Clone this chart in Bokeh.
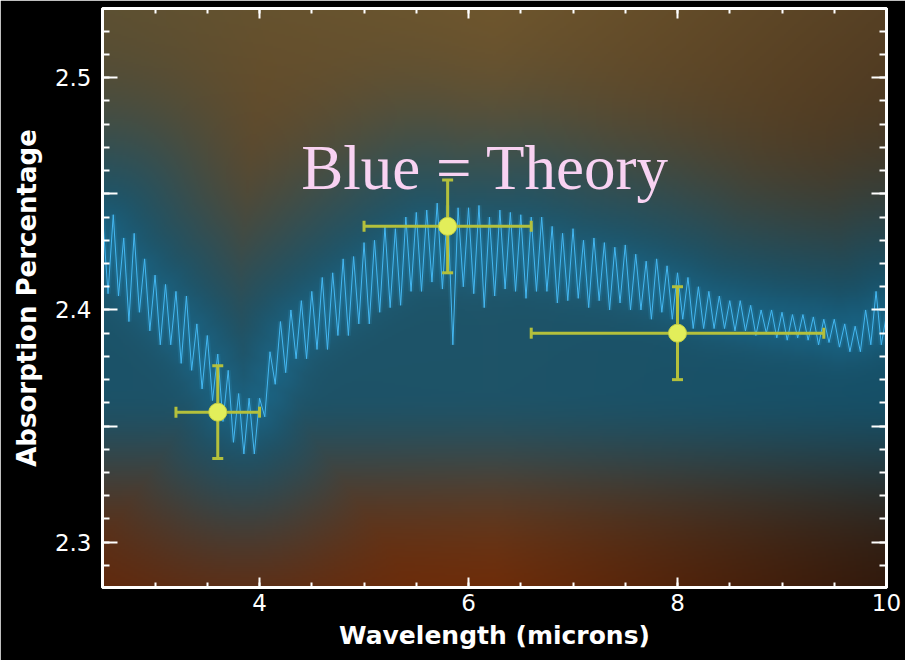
import numpy as np
from bokeh.plotting import figure
from bokeh.models import (Range1d, LinearAxis, FixedTicker, CustomJSTickFormatter, Label)
from bokeh.embed import file_html
from bokeh.resources import INLINE

# ---------------- data ----------------
WAVELENGTH = [
    2.50, 2.55, 2.60, 2.65, 2.70, 2.75, 2.80, 2.85, 2.90, 2.95,
    3.00, 3.05, 3.10, 3.15, 3.20, 3.25, 3.30, 3.35, 3.40, 3.45,
    3.50, 3.55, 3.60, 3.65, 3.70, 3.75, 3.80, 3.85, 3.90, 3.95,
    4.00, 4.05, 4.10, 4.15, 4.20, 4.25, 4.30, 4.35, 4.40, 4.45,
    4.50, 4.55, 4.60, 4.65, 4.70, 4.75, 4.80, 4.85, 4.90, 4.95,
    5.00, 5.05, 5.10, 5.15, 5.20, 5.25, 5.30, 5.35, 5.40, 5.45,
    5.50, 5.55, 5.60, 5.65, 5.70, 5.75, 5.80, 5.85, 5.90, 5.95,
    6.00, 6.05, 6.10, 6.15, 6.20, 6.25, 6.30, 6.35, 6.40, 6.45,
    6.50, 6.55, 6.60, 6.65, 6.70, 6.75, 6.80, 6.85, 6.90, 6.95,
    7.00, 7.05, 7.10, 7.15, 7.20, 7.25, 7.30, 7.35, 7.40, 7.45,
    7.50, 7.55, 7.60, 7.65, 7.70, 7.75, 7.80, 7.85, 7.90, 7.95,
    8.00, 8.05, 8.10, 8.15, 8.20, 8.25, 8.30, 8.35, 8.40, 8.45,
    8.50, 8.55, 8.60, 8.65, 8.70, 8.75, 8.80, 8.85, 8.90, 8.95,
    9.00, 9.05, 9.10, 9.15, 9.20, 9.25, 9.30, 9.35, 9.40, 9.45,
    9.50, 9.55, 9.60, 9.65, 9.70, 9.75, 9.80, 9.85, 9.90, 9.95,
    10.00,
]
THEORY = [
    2.439, 2.407, 2.441, 2.406, 2.431, 2.395, 2.433, 2.399, 2.422, 2.391,
    2.415, 2.385, 2.411, 2.385, 2.408, 2.377, 2.406, 2.374, 2.394, 2.366,
    2.389, 2.361, 2.381, 2.352, 2.374, 2.343, 2.364, 2.338, 2.362, 2.338,
    2.362, 2.354, 2.382, 2.368, 2.395, 2.373, 2.400, 2.379, 2.404, 2.379,
    2.408, 2.383, 2.414, 2.383, 2.416, 2.389, 2.422, 2.389, 2.423, 2.394,
    2.429, 2.394, 2.430, 2.399, 2.436, 2.401, 2.435, 2.402, 2.440, 2.408,
    2.442, 2.408, 2.443, 2.412, 2.446, 2.409, 2.445, 2.385, 2.444, 2.410,
    2.444, 2.407, 2.445, 2.401, 2.440, 2.406, 2.443, 2.409, 2.442, 2.408,
    2.441, 2.405, 2.440, 2.408, 2.440, 2.408, 2.436, 2.403, 2.433, 2.404,
    2.435, 2.405, 2.430, 2.401, 2.431, 2.404, 2.429, 2.400, 2.427, 2.403,
    2.428, 2.400, 2.424, 2.400, 2.421, 2.396, 2.422, 2.399, 2.419, 2.396,
    2.416, 2.396, 2.414, 2.392, 2.410, 2.392, 2.408, 2.392, 2.406, 2.392,
    2.404, 2.391, 2.404, 2.391, 2.402, 2.389, 2.400, 2.390, 2.400, 2.388,
    2.399, 2.387, 2.398, 2.388, 2.398, 2.387, 2.397, 2.385, 2.396, 2.386,
    2.396, 2.384, 2.394, 2.382, 2.393, 2.382, 2.400, 2.385, 2.408, 2.385,
    2.398,
]
OBS_WAVE = [3.6, 5.8, 8.0]
OBS_WAVE_ERR = [0.4, 0.8, 1.4]
OBS_ABS = [2.356, 2.436, 2.390]
OBS_ABS_ERR = [0.02, 0.02, 0.02]
X_TICKS = [4, 6, 8, 10]
Y_TICKS = [2.30, 2.35, 2.40, 2.45, 2.50]
X_LABEL = "Wavelength (microns)"
Y_LABEL = "Absorption Percentage"
NOTE = "Blue = Theory"

# ---------------- geometry ----------------
X0, X1 = 2.497, 10.0
Y0, Y1 = 2.2805, 2.5298
FW, FH = 784, 579

p = figure(frame_width=FW, frame_height=FH,
           min_border_left=102, min_border_right=19,
           min_border_top=8, min_border_bottom=73,
           x_range=Range1d(X0, X1), y_range=Range1d(Y0, Y1),
           output_backend="svg", toolbar_location=None)
p.background_fill_color = "black"
p.border_fill_color = "black"
p.outline_line_color = "white"
p.outline_line_width = 3
p.grid.visible = False

# ---------------- decorative background glow ----------------
nx, ny = 392, 290
gx = (np.arange(nx) + 0.5) * FW / nx
gy = (np.arange(ny) + 0.5) * FH / ny
PX, PY = np.meshgrid(gx, gy)
wl = np.asarray(WAVELENGTH)
th = np.asarray(THEORY)
k = 9
sm = np.convolve(np.pad(th, k // 2, mode="edge"), np.ones(k) / k, mode="valid")
cx = (wl - X0) / (X1 - X0) * FW
cy = (Y1 - sm) / (Y1 - Y0) * FH
d2 = np.full(PX.shape, np.inf)
for a, b in zip(cx, cy):
    np.minimum(d2, (PX - a) ** 2 + (PY - b) ** 2, out=d2)
d = np.sqrt(d2)
cyi = np.interp(gx, cx, cy)[None, :]
below = PY > cyi
w_dist = np.exp(-(d / 125.0) ** 2)
bnd = np.maximum(cyi, 380.0)
w_low = np.exp(-(np.maximum(0.0, PY - bnd) / 105.0) ** 2)
w = np.where(below, np.maximum(w_dist, w_low * 0.95), w_dist)
w2 = np.exp(-(d / 30.0) ** 2)
t = PY / FH
xr = PX / FW
top_c = np.array([(95, 80, 48), (112, 86, 44), (86, 64, 36)], float)
bot_c = np.array([(100, 40, 10), (112, 44, 8), (50, 24, 10)], float)
rgb = np.zeros((ny, nx, 3))
teal = np.array([14, 88, 120], float)
light = np.array([35, 130, 175], float)
for i in range(3):
    tc = np.interp(xr, [0, 0.5, 1], top_c[:, i])
    bc = np.interp(xr, [0, 0.5, 1], bot_c[:, i])
    base = tc * (1 - t) + bc * t
    c = base * (1 - 0.88 * w) + teal[i] * 0.88 * w
    c = c * (1 - 0.3 * w2) + light[i] * 0.3 * w2
    rgb[..., i] = c
rgb = np.clip(rgb, 0, 255).astype(np.uint8)[::-1]
img = np.empty((ny, nx), dtype=np.uint32)
view = img.view(dtype=np.uint8).reshape((ny, nx, 4))
view[..., :3] = rgb
view[..., 3] = 255
p.image_rgba(image=[img], x=X0, y=Y0, dw=X1 - X0, dh=Y1 - Y0, level="image")

# ---------------- theory spectrum ----------------
p.line(WAVELENGTH, THEORY, line_color="#3db4f0", line_width=5, line_alpha=0.12)
p.line(WAVELENGTH, THEORY, line_color="#45b8f2", line_width=1.0)

# ---------------- observations ----------------
ERR_COL = "#b4c03c"
xl = [a - e for a, e in zip(OBS_WAVE, OBS_WAVE_ERR)]
xu = [a + e for a, e in zip(OBS_WAVE, OBS_WAVE_ERR)]
yl = [a - e for a, e in zip(OBS_ABS, OBS_ABS_ERR)]
yu = [a + e for a, e in zip(OBS_ABS, OBS_ABS_ERR)]
p.segment(x0=xl, y0=OBS_ABS, x1=xu, y1=OBS_ABS, line_color=ERR_COL, line_width=3)
p.segment(x0=OBS_WAVE, y0=yl, x1=OBS_WAVE, y1=yu, line_color=ERR_COL, line_width=3)
p.scatter(x=xl + xu, y=OBS_ABS + OBS_ABS, marker="dash", angle=np.pi / 2, size=11,
          line_color=ERR_COL, line_width=3)
p.scatter(x=OBS_WAVE + OBS_WAVE, y=yl + yu, marker="dash", size=11,
          line_color=ERR_COL, line_width=3)
p.scatter(x=OBS_WAVE, y=OBS_ABS, size=18, fill_color="#e2ee5a",
          line_color="#c8d244", line_width=1)

# ---------------- note ----------------
p.add_layout(Label(x=4.399, y=2.4613, text=NOTE, text_font="Liberation Serif",
                   text_font_size="63px", text_color="#f8d2f2",
                   text_baseline="alphabetic", text_align="left"))

# ---------------- axes ----------------
x_minor = [2.5 + 0.5 * i for i in range(16)]
y_minor = [round(2.28 + 0.01 * i, 2) for i in range(26)]
yfmt = CustomJSTickFormatter(code="return Math.abs(tick*10 - Math.round(tick*10)) < 1e-6 ? tick.toFixed(1) : '';")


def common(ax, labels, standoff):
    ax.axis_line_color = "white"
    ax.axis_line_width = 3
    ax.major_tick_out = 0
    ax.minor_tick_out = 0
    ax.major_tick_line_color = "white"
    ax.minor_tick_line_color = "white"
    ax.major_tick_line_width = 2
    ax.minor_tick_line_width = 2
    if labels:
        ax.major_label_text_font = "DejaVu Sans"
        ax.major_label_text_font_size = "23px"
        ax.major_label_text_color = "white"
        ax.major_label_standoff = standoff
    else:
        ax.major_label_text_font_size = "0px"
        ax.major_label_text_color = None
        ax.major_label_standoff = 0


def style_x(ax, labels):
    ax.ticker = FixedTicker(ticks=X_TICKS, minor_ticks=x_minor)
    ax.major_tick_in = 10
    ax.minor_tick_in = 5
    common(ax, labels, 6)


def style_y(ax, labels):
    ax.ticker = FixedTicker(ticks=Y_TICKS, minor_ticks=y_minor)
    ax.formatter = yfmt
    ax.major_tick_in = 15
    ax.minor_tick_in = 7
    common(ax, labels, 11)


xa = p.xaxis[0]
style_x(xa, True)
xa.axis_label = X_LABEL
xa.axis_label_text_font = "DejaVu Sans"
xa.axis_label_text_font_size = "25px"
xa.axis_label_text_font_style = "bold"
xa.axis_label_text_color = "white"
xa.axis_label_standoff = 7

ya = p.yaxis[0]
style_y(ya, True)
ya.axis_label = Y_LABEL
ya.axis_label_text_font = "DejaVu Sans"
ya.axis_label_text_font_size = "26px"
ya.axis_label_text_font_style = "bold"
ya.axis_label_text_color = "white"
ya.axis_label_standoff = 10

top_ax = LinearAxis()
style_x(top_ax, False)
p.add_layout(top_ax, "above")
right_ax = LinearAxis()
style_y(right_ax, False)
p.add_layout(right_ax, "right")

open("out.html", "w").write(file_html(p, INLINE))
